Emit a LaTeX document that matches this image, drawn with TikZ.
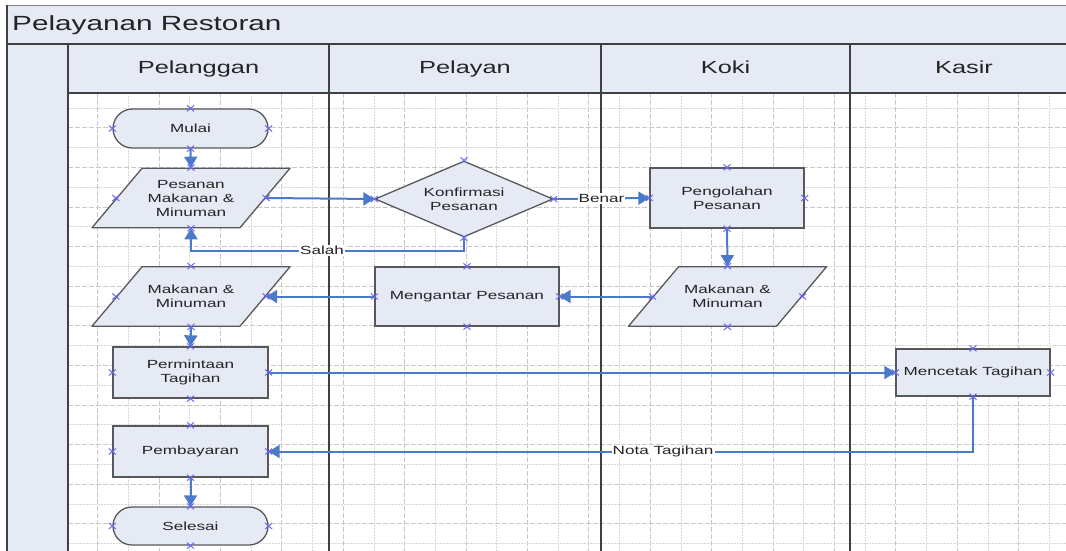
\documentclass[tikz,border=0pt]{standalone}
\usepackage{fontspec}
\setmainfont{Liberation Sans}[FakeStretch=1.45]
\usetikzlibrary{shapes.geometric,shapes.misc,arrows.meta}
\definecolor{lanefill}{RGB}{229,234,245}
\definecolor{shapefill}{RGB}{229,234,245}
\definecolor{edgegray}{RGB}{88,88,88}
\definecolor{framegray}{RGB}{64,64,64}
\definecolor{textgray}{RGB}{36,36,36}
\definecolor{flowblue}{RGB}{74,122,200}
\definecolor{cpblue}{RGB}{105,105,245}
\definecolor{gridgray}{RGB}{200,200,200}
\begin{document}
\begin{tikzpicture}[x=1pt,y=-1pt,
    shp/.style={draw=edgegray,line width=1.3pt,fill=shapefill,text=textgray,align=center,
        inner sep=0pt,font=\fontsize{11.8}{14}\selectfont},
    proc/.style 2 args={shp,rectangle,minimum width=#1,minimum height=#2},
    term/.style={shp,rounded rectangle,minimum width=155pt,minimum height=39pt},
    io/.style={shp,draw=none,fill=none,rectangle,minimum width=149pt,minimum height=59.4pt},
    para/.style={draw=edgegray,line width=1.3pt,fill=shapefill,line join=round},
    decision/.style={shp,diamond,shape aspect=2.34,minimum width=178pt,minimum height=76pt},
    hdr/.style={anchor=base,inner sep=0pt,text=textgray,font=\fontsize{17.5}{20}\selectfont},
    frame/.style={draw=framegray,line width=1.5pt},
    gridmajor/.style={draw=gridgray,line width=0.9pt,dash pattern=on 5pt off 2pt},
    gridminor/.style={draw=gridgray!75,line width=0.9pt,dash pattern=on 1.5pt off 1.5pt},
    flow/.style={draw=flowblue,line width=2pt,-{Triangle[length=11pt,width=13pt]}},
    flowlabel/.style={fill=white,text=textgray,inner sep=1pt,font=\fontsize{11.8}{14}\selectfont},
    cpt/.style={draw=cpblue,cross out,line width=1pt,minimum width=6pt,minimum height=5pt,inner sep=0pt}]
    \clip (0,0) rectangle (1066,551);
    % bands
    \fill[lanefill] (7,5) rectangle (1080,44);
    \fill[lanefill] (7,44) rectangle (68,560);
    \fill[lanefill] (68,44) rectangle (1080,93);
    % grid
    \foreach \k in {1,3,...,33}
        \draw[gridmajor] ({67+30.7*\k},93) -- ({67+30.7*\k},551);
    \foreach \k in {2,4,...,32}
        \draw[gridminor] ({67+30.7*\k},93) -- ({67+30.7*\k},551);
    \foreach \j in {1,3,...,21}
        \draw[gridmajor] (68,{108+19.8*\j}) -- (1066,{108+19.8*\j});
    \foreach \j in {0,2,...,22}
        \draw[gridminor] (68,{108+19.8*\j}) -- (1066,{108+19.8*\j});
    % lanes
    \draw[draw=gray,line width=0.8pt] (7,5) -- (1080,5);
    \draw[frame,line width=2.5pt] (7,5) -- (7,560);
    \draw[frame] (7,44) -- (1080,44);
    \draw[frame] (68,44) -- (68,560);
    \draw[frame] (68,93) -- (1080,93);
    \foreach \x in {329,601,850}
        \draw[frame] (\x,44) -- (\x,560);
    % titles
    \node[anchor=base west,inner sep=0pt,text=textgray,font=\fontsize{20.5}{24}\selectfont]
        (judul) at (12,30.5) {Pelayanan Restoran};
    \node[hdr] (hpelanggan) at (198.5,74) {Pelanggan};
    \node[hdr] (hpelayan) at (465,74) {Pelayan};
    \node[hdr] (hkoki) at (725.5,74) {Koki};
    \node[hdr] (hkasir) at (964,74) {Kasir};
    % parallelograms (data)
    \foreach \cx/\cy in {191/198, 191/296.5, 727.5/296.5}
        \filldraw[para] (\cx-99,\cy+29.7) -- (\cx-49,\cy-29.7) -- (\cx+99,\cy-29.7)
            -- (\cx+49,\cy+29.7) -- cycle;
    % shapes
    \node[term] (mulai) at (190.5,128.5) {Mulai};
    \node[io] (pes) at (191,198) {Pesanan\\Makanan \&\\Minuman};
    \node[decision] (konf) at (464,199) {Konfirmasi\\Pesanan};
    \node[proc={154pt}{60pt}] (olah) at (727,198) {Pengolahan\\Pesanan};
    \node[io] (kmm) at (727.5,296.5) {Makanan \&\\Minuman};
    \node[proc={184pt}{59pt}] (antar) at (467,296.5) {Mengantar Pesanan};
    \node[io] (pmm) at (191,296.5) {Makanan \&\\Minuman};
    \node[proc={155pt}{51pt}] (minta) at (190.5,372.5) {Permintaan\\Tagihan};
    \node[proc={154pt}{47pt}] (cetak) at (973,372.5) {Mencetak Tagihan};
    \node[proc={155pt}{51pt}] (bayar) at (190.5,451.5) {Pembayaran};
    \node[term,minimum height=38pt] (selesai) at (190.5,526) {Selesai};
    % flows
    \draw[flow] (mulai.south) -- (pes.north);
    \draw[flow] (pes.east) -- (konf.west);
    \draw[flow] (konf.east) -- node[flowlabel]{Benar} (olah.west);
    \draw[flow] (konf.south) -- ++(0,13) -| node[flowlabel,pos=0.26]{Salah} (pes.south);
    \draw[flow] (olah.south) -- (kmm.north);
    \draw[flow] (kmm.west) -- (antar.east);
    \draw[flow] (antar.west) -- (pmm.east);
    \draw[flow] (pmm.south) -- (minta.north);
    \draw[flow] (minta.east) -- (cetak.west);
    \draw[flow] (cetak.south) |- node[flowlabel,pos=0.72]{Nota Tagihan} (bayar.east);
    \draw[flow] (bayar.south) -- (selesai.north);
    % connection points
    \foreach \n in {mulai,pes,konf,olah,kmm,antar,pmm,minta,cetak,bayar,selesai}
        \foreach \a in {north,south,east,west}
            \node[cpt] at (\n.\a) {};
\end{tikzpicture}
\end{document}
